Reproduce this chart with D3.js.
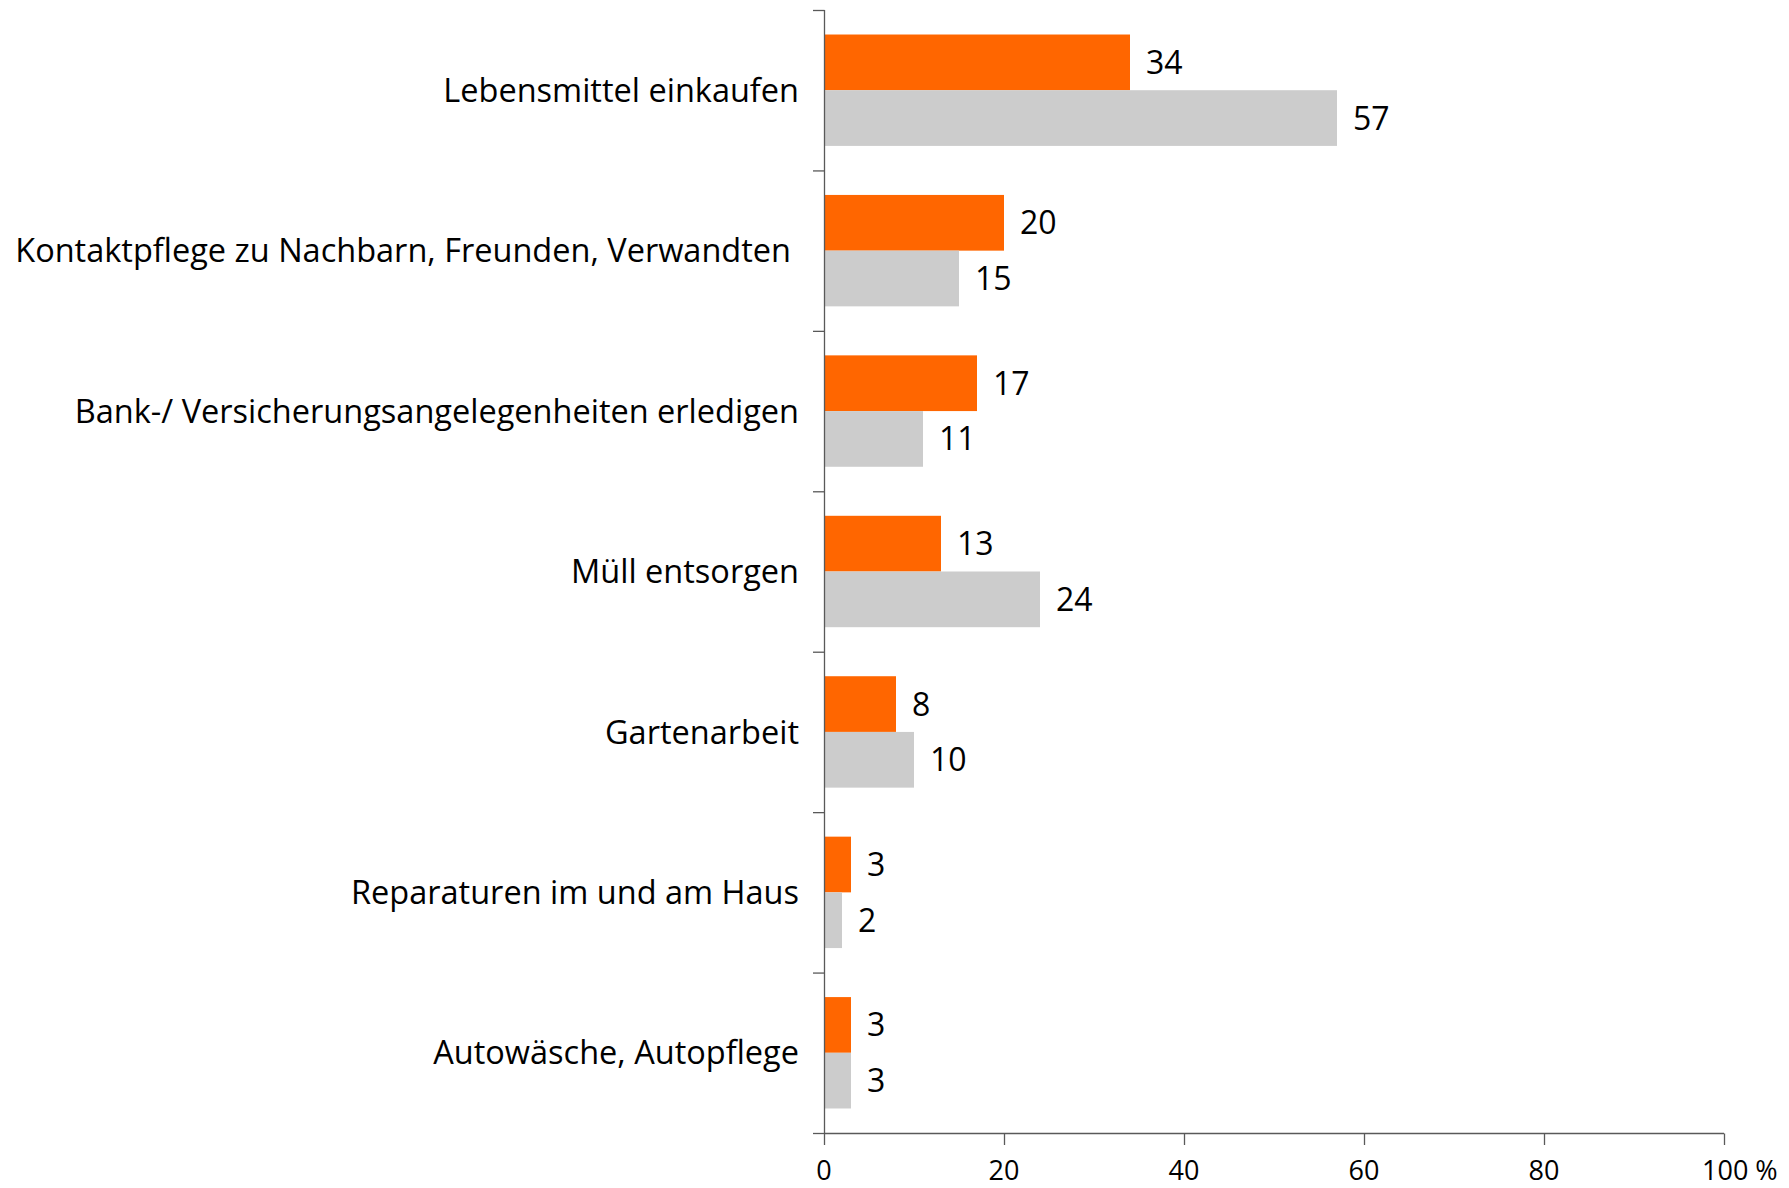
<!DOCTYPE html>
<html>
<head>
<meta charset="utf-8">
<script src="https://cdn.jsdelivr.net/npm/d3@7"></script>
<style>
  body { margin: 0; background: #fff; }
  text { font-family: "Open Sans", sans-serif; fill: #000; }
</style>
</head>
<body>
<div id="chart"></div>
<script>
// categories, top to bottom
const CATEGORIES = [
  "Lebensmittel einkaufen",
  "Kontaktpflege zu Nachbarn, Freunden, Verwandten",
  "Bank-/ Versicherungsangelegenheiten erledigen",
  "Müll entsorgen",
  "Gartenarbeit",
  "Reparaturen im und am Haus",
  "Autowäsche, Autopflege"
]
const SERIES = ["orange", "grau"]
const VALUES_ORANGE = [34, 20, 17, 13, 8, 3, 3]
const VALUES_GREY = [57, 15, 11, 24, 10, 2, 3]
const X_TICKS = [0, 20, 40, 60, 80, 100]
const X_TICK_LABELS = ["0", "20", "40", "60", "80", "100 %"]

const COLORS = {orange: "#ff6600", grau: "#cccccc"}

var width = 1789,
    height = 1188;

var svg = d3.select("#chart").append("svg")
  .attr("width", width)
  .attr("height", height);

const x = d3.scaleLinear()
  .domain([0, 100])
  .range([824, 1724]);

const y = d3.scaleBand()
  .domain(CATEGORIES)
  .range([10, 1133])
  .paddingInner(0)
  .paddingOuter(0);

const y1 = d3.scaleBand()
  .domain(SERIES)
  .range([0, y.bandwidth()])
  .paddingInner(0)
  .paddingOuter(0.44);

var rows = CATEGORIES.map(function(c, i) {
  return {cat: c, vals: [
    {s: "orange", v: VALUES_ORANGE[i]},
    {s: "grau", v: VALUES_GREY[i]}
  ]};
});

// bars
var groups = svg.append("g")
  .selectAll("g")
  .data(rows)
  .join("g")
    .attr("transform", d => "translate(0," + y(d.cat) + ")");

groups.selectAll("rect")
  .data(d => d.vals)
  .join("rect")
    .attr("x", x(0))
    .attr("y", d => y1(d.s))
    .attr("width", d => x(d.v) - x(0))
    .attr("height", y1.bandwidth())
    .attr("fill", d => COLORS[d.s]);

// value labels
groups.selectAll("text.val")
  .data(d => d.vals)
  .join("text")
    .attr("class", "val")
    .attr("x", d => x(d.v) + 16)
    .attr("y", d => y1(d.s) + y1.bandwidth() / 2)
    .attr("dy", "0.36em")
    .style("font-size", "32px")
    .text(d => d.v);

// y axis (category labels)
var yAxis = svg.append("g")
  .attr("transform", "translate(" + x(0) + ",0)");

yAxis.append("line")
  .attr("x1", 0.5).attr("x2", 0.5)
  .attr("y1", y.range()[0]).attr("y2", y.range()[1])
  .attr("stroke", "#595959").attr("stroke-width", 1.3);

var boundaries = CATEGORIES.map(c => y(c)).concat([y.range()[1]]);
yAxis.selectAll("line.tick")
  .data(boundaries)
  .join("line")
    .attr("class", "tick")
    .attr("x1", -11).attr("x2", 0.5)
    .attr("y1", d => d + 0.5).attr("y2", d => d + 0.5)
    .attr("stroke", "#595959").attr("stroke-width", 1.3);

yAxis.selectAll("text")
  .data(CATEGORIES)
  .join("text")
    .attr("x", (d, i) => i === 1 ? -33 : -25)
    .attr("y", d => y(d) + y.bandwidth() / 2)
    .attr("dy", "0.36em")
    .attr("text-anchor", "end")
    .style("font-size", "32.5px")
    .text(d => d);

// x axis
var xAxis = svg.append("g")
  .attr("transform", "translate(0," + y.range()[1] + ")");

xAxis.append("line")
  .attr("x1", x(0)).attr("x2", x(100))
  .attr("y1", 0.5).attr("y2", 0.5)
  .attr("stroke", "#595959").attr("stroke-width", 1.3);

xAxis.selectAll("line.tick")
  .data(X_TICKS)
  .join("line")
    .attr("class", "tick")
    .attr("x1", d => x(d) + 0.5).attr("x2", d => x(d) + 0.5)
    .attr("y1", 0.5).attr("y2", 12)
    .attr("stroke", "#595959").attr("stroke-width", 1.3);

xAxis.selectAll("text")
  .data(X_TICKS)
  .join("text")
    .attr("x", d => x(d))
    .attr("y", 37)
    .attr("dy", "0.36em")
    .attr("text-anchor", (d, i) => i === X_TICKS.length - 1 ? "start" : "middle")
    .attr("dx", (d, i) => i === X_TICKS.length - 1 ? -22 : 0)
    .style("font-size", "27px")
    .text((d, i) => X_TICK_LABELS[i]);
</script>
</body>
</html>
